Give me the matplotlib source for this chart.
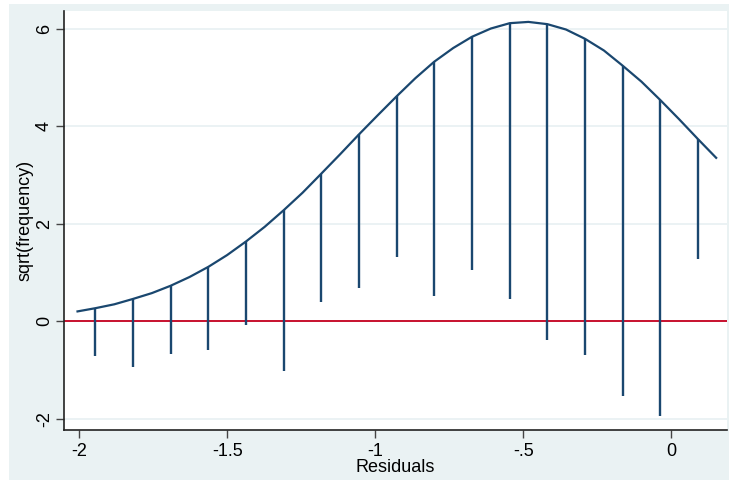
import matplotlib
matplotlib.use("Agg")
import matplotlib.pyplot as plt
from matplotlib.patches import Rectangle

plt.rcParams['font.family'] = ['Liberation Sans', 'DejaVu Sans']

# Bin centers (residuals)
bin_centers = [-1.946, -1.819, -1.692, -1.564, -1.437, -1.310, -1.183, -1.055,
               -0.928, -0.801, -0.674, -0.546, -0.419, -0.292, -0.165, -0.037, 0.090]
# Spike tops (expected sqrt frequency) and spike bottoms (hanging)
spike_tops = [0.27, 0.46, 0.73, 1.12, 1.64, 2.28, 3.03, 3.84, 4.62, 5.33, 5.84,
              6.12, 6.10, 5.80, 5.25, 4.54, 3.74]
spike_bottoms = [-0.71, -0.94, -0.67, -0.59, -0.07, -1.01, 0.40, 0.68, 1.32, 0.53,
                 1.05, 0.45, -0.39, -0.69, -1.53, -1.94, 1.29]

# Fitted curve
curve_x = [-2.010, -1.946, -1.882, -1.819, -1.755, -1.692, -1.628, -1.564, -1.501,
           -1.437, -1.374, -1.310, -1.246, -1.183, -1.119, -1.055, -0.992, -0.928,
           -0.865, -0.801, -0.737, -0.674, -0.610, -0.546, -0.483, -0.419, -0.356,
           -0.292, -0.228, -0.165, -0.101, -0.037, 0.026, 0.090, 0.154]
curve_y = [0.20, 0.27, 0.35, 0.46, 0.58, 0.73, 0.91, 1.12, 1.36, 1.64, 1.94, 2.28,
           2.64, 3.03, 3.43, 3.84, 4.23, 4.62, 4.99, 5.33, 5.61, 5.84, 6.01, 6.12,
           6.146, 6.10, 5.99, 5.80, 5.56, 5.25, 4.92, 4.54, 4.15, 3.74, 3.34]

x_ticks = [-2, -1.5, -1, -0.5, 0]
x_tick_labels = ['-2', '-1.5', '-1', '-.5', '0']
y_ticks = [-2, 0, 2, 4, 6]
y_tick_labels = ['-2', '0', '2', '4', '6']

navy = '#1a476f'
bg = '#eaf2f3'

fig = plt.figure(figsize=(7.29, 4.80), dpi=100, facecolor='white')
fig.patches.append(Rectangle((9/729, 0), 1, (480-4)/480, transform=fig.transFigure,
                             facecolor=bg, edgecolor='none', zorder=-10))
ax = fig.add_axes([64/729, 50/480, (727-64)/729, (430-11)/480])
ax.set_zorder(1)
ax.set_facecolor('white')

ax.set_xlim(-2.052, 0.188)
ax.set_ylim(-2.23, 6.37)

for y in y_ticks:
    ax.axhline(y, color='#e6eff1', lw=1.1, zorder=1)
ax.axhline(0, color='#c8102e', lw=1.4, zorder=2)

ax.vlines(bin_centers, spike_bottoms, spike_tops, color=navy, lw=1.7, zorder=3)
ax.plot(curve_x, curve_y, color=navy, lw=1.6, zorder=4, solid_capstyle='butt')

ax.set_xticks(x_ticks)
ax.set_xticklabels(x_tick_labels)
ax.set_yticks(y_ticks)
ax.set_yticklabels(y_tick_labels, rotation=90, va='center')

ax.tick_params(axis='both', direction='out', length=6, width=1, color='#444444',
               labelsize=13, labelcolor='black')
ax.tick_params(axis='x', pad=3)
ax.tick_params(axis='y', pad=2)

for s in ['top', 'right']:
    ax.spines[s].set_visible(False)
for s in ['left', 'bottom']:
    ax.spines[s].set_color('#222222')
    ax.spines[s].set_linewidth(1.2)

ax.set_xlabel('Residuals', fontsize=13, labelpad=0)
ax.set_ylabel('sqrt(frequency)', fontsize=13, labelpad=2)

fig.savefig('out.png', dpi=100, facecolor='white')
